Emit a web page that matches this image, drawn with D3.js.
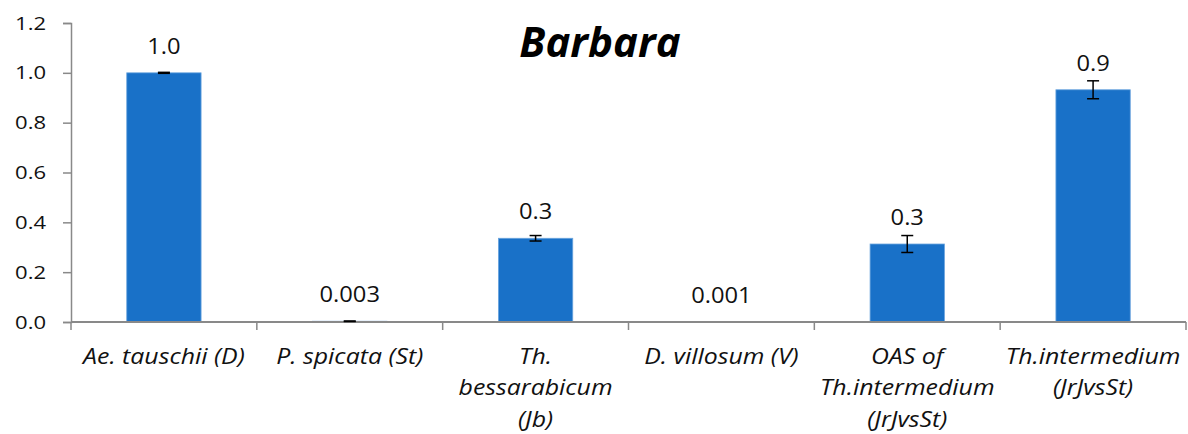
<!DOCTYPE html>
<html>
<head>
<meta charset="utf-8">
<script src="https://cdn.jsdelivr.net/npm/d3@7"></script>
<style>
  html, body { margin: 0; padding: 0; background: #fff; }
  svg { display: block; }
</style>
</head>
<body>
<svg id="chart" width="1188" height="434"></svg>
<script>
// ---- data ----
const title = "Barbara";
const categories = ["Ae. tauschii (D)", "P. spicata (St)", "Th. bessarabicum (Jb)", "D. villosum (V)", "OAS of Th.intermedium (JrJvsSt)", "Th.intermedium (JrJvsSt)"];
const categoryLines = [["Ae. tauschii (D)"], ["P. spicata (St)"], ["Th.", "bessarabicum", "(Jb)"], ["D. villosum (V)"], ["OAS of", "Th.intermedium", "(JrJvsSt)"], ["Th.intermedium", "(JrJvsSt)"]];
const values = [1.0, 0.003, 0.336, 0.001, 0.313, 0.932];
const errors = [0.002, 0.001, 0.011, 0.0, 0.034, 0.036];
const valueLabels = ["1.0", "0.003", "0.3", "0.001", "0.3", "0.9"];
const yTicks = [0, 0.2, 0.4, 0.6, 0.8, 1.0, 1.2];

// ---- layout ----
const svg = d3.select("#chart");
const mLeft = 71, mRight = 1186, mTop = 23, mBottom = 322;

const x = d3.scaleBand().domain(categories).range([mLeft, mRight]).paddingInner(0.6).paddingOuter(0.3);
const y = d3.scaleLinear().domain([0, 1.2]).range([mBottom, mTop]);

const axisColor = "#898989";
const font = "'Open Sans', 'Noto Sans', sans-serif";
const sx = 1.13; // horizontal stretch of the reference's text

// y axis
const tickSize = 8, tickPad = 17, tickScale = 1.16;
const yAxis = svg.append("g").attr("transform", `translate(${mLeft},0)`)
  .call(d3.axisLeft(y).tickValues(yTicks).tickFormat(d3.format(".1f")).tickSize(tickSize).tickPadding(tickPad));
yAxis.select(".domain").attr("stroke", axisColor).attr("stroke-width", 1.5);
yAxis.selectAll(".tick line").attr("stroke", axisColor).attr("stroke-width", 1.5);
yAxis.selectAll(".tick text").attr("font-family", font).attr("font-size", 19).attr("fill", "#111")
  .attr("x", -(tickSize + tickPad) / tickScale).attr("transform", `scale(${tickScale},1)`);

// bars
svg.append("g").selectAll("rect").data(categories).join("rect")
  .attr("x", d => x(d))
  .attr("width", x.bandwidth())
  .attr("y", (d, i) => y(values[i]))
  .attr("height", (d, i) => y(0) - y(values[i]))
  .attr("fill", "#1971c8")
  .attr("stroke", "#6aa4de")
  .attr("stroke-width", 0.8);

// x axis (domain line + ticks at band boundaries)
const xg = svg.append("g");
xg.append("line").attr("x1", mLeft).attr("x2", mRight).attr("y1", y(0)).attr("y2", y(0))
  .attr("stroke", axisColor).attr("stroke-width", 2);
const bounds = d3.range(categories.length + 1).map(i => mLeft + i * (mRight - mLeft) / categories.length);
xg.selectAll("line.tk").data(bounds).join("line").attr("class", "tk")
  .attr("x1", d => d).attr("x2", d => d).attr("y1", y(0)).attr("y2", y(0) + 8)
  .attr("stroke", axisColor).attr("stroke-width", 1.5);

// x labels
const xl = svg.append("g");
categories.forEach((c, i) => {
  const cx = x(c) + x.bandwidth() / 2;
  const t = xl.append("text").attr("transform", `translate(${cx},364) scale(${sx},1)`)
    .attr("text-anchor", "middle").attr("font-family", font).attr("font-style", "italic")
    .attr("font-size", 22).attr("fill", "#111");
  categoryLines[i].forEach((ln, j) => {
    t.append("tspan").attr("x", 0).attr("dy", j === 0 ? 0 : 31.5).text(ln);
  });
});

// error bars
const eg = svg.append("g");
categories.forEach((c, i) => {
  if (errors[i] <= 0) return;
  const cx = x(c) + x.bandwidth() / 2;
  const y1 = y(values[i] + errors[i]), y2 = y(values[i] - errors[i]);
  eg.append("line").attr("x1", cx).attr("x2", cx).attr("y1", y1).attr("y2", y2).attr("stroke", "#000").attr("stroke-width", 1.5);
  [y1, y2].forEach(yy => eg.append("line").attr("x1", cx - 6).attr("x2", cx + 6).attr("y1", yy).attr("y2", yy).attr("stroke", "#000").attr("stroke-width", 1.5));
});

// value labels
svg.append("g").selectAll("text").data(categories).join("text")
  .attr("transform", (d, i) => `translate(${x(d) + x.bandwidth() / 2},${y(values[i]) - 19}) scale(${sx},1)`)
  .attr("text-anchor", "middle")
  .attr("font-family", font).attr("font-size", 21).attr("fill", "#111")
  .text((d, i) => valueLabels[i]);

// title
svg.append("text").attr("x", 600).attr("y", 57).attr("text-anchor", "middle")
  .attr("font-family", font).attr("font-weight", "bold").attr("font-style", "italic")
  .attr("font-size", 42).attr("fill", "#000").text(title);
</script>
</body>
</html>
